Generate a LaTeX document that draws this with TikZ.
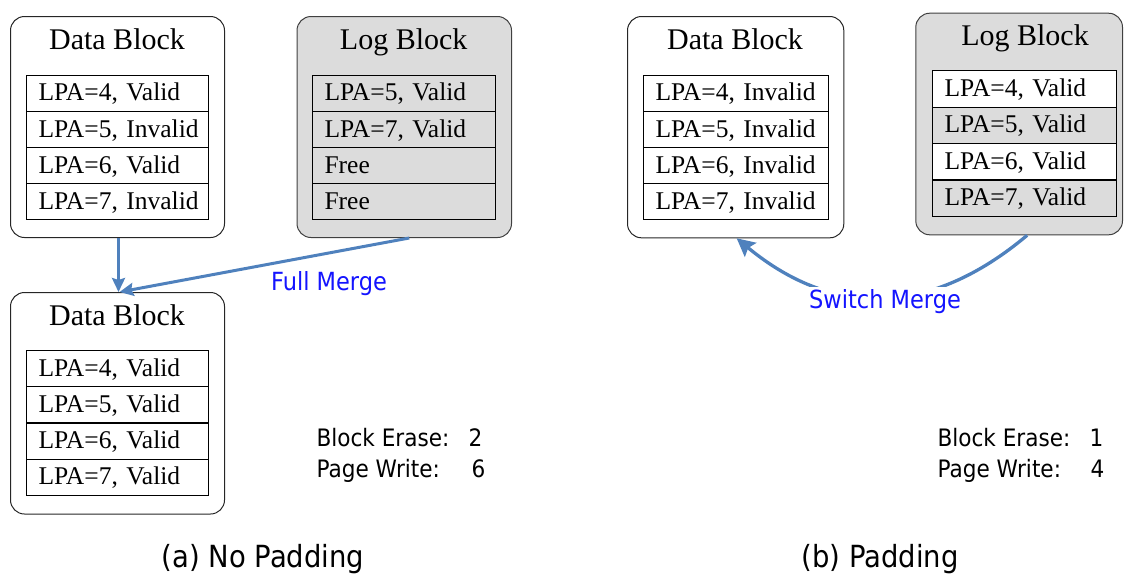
\documentclass[tikz,border=0pt]{standalone}
\usepackage{fontspec}
\setmainfont{Liberation Serif}
\newfontfamily\uisans{DejaVu Sans}[FakeStretch=0.9]
\usetikzlibrary{arrows.meta,calc}
\definecolor{arrowblue}{RGB}{79,129,189}
\definecolor{pagegray}{RGB}{220,220,220}
\definecolor{labelblue}{RGB}{20,20,255}
\begin{document}
\begin{tikzpicture}[x=1pt,y=1pt,
  block/.style={draw=black!85, line width=1pt, rounded corners=14pt,
    anchor=north west, inner sep=0pt},
  logblock/.style={block, fill=pagegray, draw=black!75},
  title/.style={anchor=base, font=\fontsize{30}{36}\selectfont},
  row/.style={draw, fill=white, line width=1.1pt, anchor=north west, minimum height=36.2pt,
    inner xsep=12pt, inner ysep=0pt, align=left, text height=19pt, text depth=4pt,
    font=\fontsize{25.5}{30}\selectfont},
  grayrow/.style={row, fill=pagegray},
  merge/.style={arrowblue, line width=3pt,
    -{Stealth[length=14pt,width=13pt,inset=2pt]}},
  bigmerge/.style={arrowblue, line width=3.3pt,
    -{Stealth[length=18pt,width=18pt,inset=3pt]}},
  mergelabel/.style={text=labelblue, anchor=base,
    font=\uisans\fontsize{25}{30}\selectfont},
  stat/.style={anchor=base west, font=\uisans\fontsize{24}{29}\selectfont},
  caption/.style={anchor=base, font=\uisans\fontsize{30.5}{36}\selectfont}]

\useasboundingbox (0,0) rectangle (1126,-574);

% ---------- (a) No Padding ----------
% data block before the merge
\node[block, minimum width=214pt, minimum height=221pt] (dbA) at (10,-16) {};
\node[title] (dbA-title) at (117,-49) {Data Block};
\foreach \t [count=\i] in {{LPA=4, Valid},{LPA=5, Invalid},{LPA=6, Valid},{LPA=7, Invalid}}
  \node[row, text width=158pt] (dbA-\i) at (26,{-74.7-(\i-1)*36.15}) {\mbox{\t}};

% log block
\node[logblock, minimum width=214.5pt, minimum height=221pt] (lbA) at (296.5,-16) {};
\node[title] (lbA-title) at (403.7,-49) {Log Block};
\foreach \t [count=\i] in {{LPA=5, Valid},{LPA=7, Valid},{Free},{Free}}
  \node[grayrow, text width=159pt] (lbA-\i) at (312,{-74.7-(\i-1)*36.15}) {\mbox{\t}};

% data block after the full merge
\node[block, minimum width=214pt, minimum height=221.5pt] (dbB) at (10,-292) {};
\node[title] (dbB-title) at (117,-325) {Data Block};
\foreach \t [count=\i] in {{LPA=4, Valid},{LPA=5, Valid},{LPA=6, Valid},{LPA=7, Valid}}
  \node[row, text width=158pt] (dbB-\i) at (26,{-350-(\i-1)*36.25}) {\mbox{\t}};

\draw[merge] ($(dbA.south)+(1,0)$) -- ($(dbB.north)+(1,0)$);
\draw[merge] ($(lbA.south)+(5,0)$) -- ($(dbB.north)+(2,0)$);
\node[mergelabel] (fullmerge) at (329,-290) {Full Merge};

\node[stat] (eraseA) at (313,-446.7) {\makebox[152pt][l]{Block Erase:}2};
\node[stat] (writeA) at (313,-477) {\makebox[155pt][l]{Page Write:}6};
\node[caption] (capA) at (263,-567) {(a) No Padding};

% ---------- (b) Padding ----------
% data block, all pages invalid
\node[block, minimum width=216.3pt, minimum height=221.3pt] (dbC) at (627,-16) {};
\node[title] (dbC-title) at (735,-49) {Data Block};
\foreach \t [count=\i] in {{LPA=4, Invalid},{LPA=5, Invalid},{LPA=6, Invalid},{LPA=7, Invalid}}
  \node[row, text width=160.7pt] (dbC-\i) at (643,{-74.7-(\i-1)*36.15}) {\mbox{\t}};

% log block filled by padding
\node[logblock, minimum width=206.7pt, minimum height=221.6pt] (lbC) at (915.3,-12.7) {};
\node[title] (lbC-title) at (1025,-45) {Log Block};
\node[row, text width=160pt] (lbC-1) at (932,-70.3) {LPA=4, Valid};
\node[grayrow, text width=160pt] (lbC-2) at (932,-106.7) {LPA=5, Valid};
\node[row, text width=160pt] (lbC-3) at (932,-143.1) {LPA=6, Valid};
\node[grayrow, text width=160pt] (lbC-4) at (932,-179.5) {LPA=7, Valid};

\draw[bigmerge] ($(lbC.south)+(8,0)$) .. controls (930,-317) and (833,-318) .. ($(dbC.south)+(1,0)$);
\node[mergelabel, fill=white, inner sep=2pt] (switchmerge) at (885,-308.3) {Switch Merge};

\node[stat] (eraseC) at (934,-446.7) {\makebox[152pt][l]{Block Erase:}1};
\node[stat] (writeC) at (934,-477) {\makebox[153pt][l]{Page Write:}4};
\node[caption] (capC) at (880,-567) {(b) Padding};
\end{tikzpicture}
\end{document}
